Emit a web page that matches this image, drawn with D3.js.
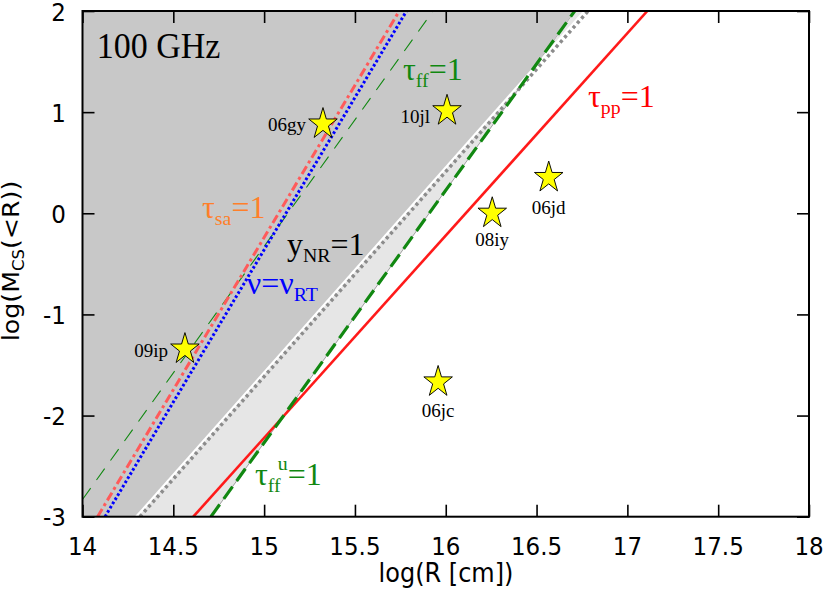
<!DOCTYPE html>
<html><head><meta charset="utf-8">
<script src="https://cdn.jsdelivr.net/npm/d3@7"></script>
<style>body{margin:0;background:#fff}</style>
</head><body>
<svg id="c" width="830" height="593"></svg>
<script>
// ---- data ----
const xTicks = [14, 14.5, 15, 15.5, 16, 16.5, 17, 17.5, 18];
const yTicks = [-3, -2, -1, 0, 1, 2];
const xTickLabels = ["14", "14.5", "15", "15.5", "16", "16.5", "17", "17.5", "18"];
const yTickLabels = ["-3", "-2", "-1", "0", "1", "2"];
// lines: endpoints [logR, logM]
const tauPP  = [[14.61, -3], [17.11, 2]];
const tauFFu = [[14.707, -3], [16.71, 2]];
const yNR    = [[14.316, -3], [16.784, 2]];
const tauFF  = [[14.0, -2.83], [15.93, 2]];
const tauSA  = [[14.083, -3], [15.744, 2]];
const nuRT   = [[14.124, -3], [15.784, 2]];
// supernovae
const snNames = ["06gy", "10jl", "09ip", "08iy", "06jd", "06jc"];
const snLogR  = [15.324, 16.007, 14.564, 16.256, 16.567, 15.958];
const snLogM  = [0.882, 1.013, -1.343, 0.0, 0.353, -1.668];

// ---- layout / style ----
const x = d3.scaleLinear().domain([14, 18]).range([82.5, 809]);
const y = d3.scaleLinear().domain([-3, 2]).range([516.7, 11]);
const svg = d3.select("#c");
const SERIF = "'Liberation Serif','DejaVu Serif',serif";
const SANS = "'DejaVu Sans',sans-serif";

svg.append("defs").append("clipPath").attr("id", "clip")
  .append("rect").attr("x", x(14)).attr("y", y(2))
  .attr("width", x(18) - x(14)).attr("height", y(-3) - y(2));
const plot = svg.append("g").attr("clip-path", "url(#clip)");

function xAt(line, yy) {
  const [[x0, y0], [x1, y1]] = line;
  return x0 + (yy - y0) * (x1 - x0) / (y1 - y0);
}
const whiteOffset = -3.5; // px, boundary line left of y_NR dots

// dark grey region: left of min(y_NR boundary, tau_ff^u)
const ys = d3.range(-3, 2.0001, 0.01);
const darkPts = [[x(14), y(2)], [x(14), y(-3)]];
ys.forEach(v => {
  const px = Math.min(x(xAt(yNR, v)) + whiteOffset, x(xAt(tauFFu, v)));
  darkPts.push([px, y(v)]);
});
// light grey region between y_NR and tau_ff^u
const lightPts = [
  [x(yNR[0][0]) + whiteOffset, y(yNR[0][1])], [x(yNR[1][0]) + whiteOffset, y(yNR[1][1])],
  [x(tauFFu[1][0]), y(tauFFu[1][1])], [x(tauFFu[0][0]), y(tauFFu[0][1])]
];
plot.append("path").attr("d", d3.line()(lightPts) + "Z")
  .attr("fill", "#e6e6e6").attr("stroke", "#8a8a8a").attr("stroke-width", 0.8);
plot.append("path").attr("d", d3.line()(darkPts) + "Z").attr("fill", "#c8c8c8");

const lineGen = d3.line().x(d => x(d[0])).y(d => y(d[1]));
function drawLine(data, stroke, width, dash, offset, cap) {
  plot.append("path").attr("d", lineGen(data))
    .attr("transform", offset ? `translate(${offset},0)` : null)
    .attr("fill", "none").attr("stroke", stroke).attr("stroke-width", width)
    .attr("stroke-dasharray", dash).attr("stroke-linecap", cap || "butt");
}
drawLine(yNR, "#ffffff", 2.5, null, whiteOffset);
drawLine(yNR, "#8c8c8c", 3.5, "3.2,3.2");
drawLine(tauFF, "#118811", 1.1, "14,10");
drawLine(tauSA, "#ff5a5a", 3, "9,3.5,3,3.5");
drawLine(nuRT, "#0000ff", 3, "2.6,2.3");
drawLine(tauPP, "#ff1a1a", 2.6, null);
drawLine(tauFFu, "#118811", 3.2, "15,7");

// stars
const R = 15;
const star = d3.symbol().type(d3.symbolStar).size(R * R / 0.8908130915292852);
const labelStyle = {
  "06gy": {pos: "left", dy: 7}, "10jl": {pos: "left", dy: 12}, "09ip": {pos: "left", dy: 8},
  "08iy": {pos: "below", dy: 33}, "06jd": {pos: "below", dy: 36}, "06jc": {pos: "below", dy: 35}
};
snNames.forEach((n, i) => {
  const cx = x(snLogR[i]), cy = y(snLogM[i]);
  svg.append("path").attr("d", star())
    .attr("transform", `translate(${cx},${cy}) scale(1,1.1)`)
    .attr("fill", "#ffff00").attr("stroke", "#000").attr("stroke-width", 0.9);
  const st = labelStyle[n];
  svg.append("text").text(n)
    .attr("x", st.pos === "left" ? cx - 17 : cx)
    .attr("y", cy + st.dy)
    .attr("text-anchor", st.pos === "left" ? "end" : "middle")
    .attr("font-family", SERIF).attr("font-size", 19).attr("fill", "#000");
});

// rich text helper
function rich(x0, y0, parts, o) {
  const g = svg.append("g").attr("transform", `translate(${x0},${y0}) scale(1,${o.sy || 1})`);
  const t = g.append("text").attr("font-family", o.family).attr("font-size", o.size)
    .attr("fill", o.color).attr("text-anchor", o.anchor || "start");
  let cur = 0;
  parts.forEach(p => {
    const [str, kind, dx] = p;
    let target = 0, fs = o.size;
    if (kind === "sub") { target = o.size * 0.22; fs = o.size * 0.62; }
    if (kind === "sup") { target = -o.size * 0.48; fs = o.size * 0.62; }
    t.append("tspan").text(str).attr("dy", target - cur).attr("dx", dx || 0).attr("font-size", fs);
    cur = target;
  });
  return g;
}
rich(96.7, 58.3, [["100 GHz"]], {family: SERIF, size: 34, color: "#000", sy: 1.08});
rich(403, 80, [["τ"], ["ff", "sub"], ["=1"]], {family: SERIF, size: 32, color: "#118811"});
rich(588, 107, [["τ"], ["pp", "sub"], ["=1"]], {family: SERIF, size: 32, color: "#ff0000"});
rich(202, 218.3, [["τ"], ["sa", "sub"], ["=1"]], {family: SERIF, size: 32, color: "#ff7f2a"});
rich(287, 255, [["y"], ["NR", "sub"], ["=1"]], {family: SERIF, size: 32, color: "#000"});
rich(246.7, 294, [["ν=ν"], ["RT", "sub"]], {family: SERIF, size: 32, color: "#0000ff"});
rich(255, 485, [["τ"], ["ff", "sub"], ["u", "sup", -3], ["=1"]], {family: SERIF, size: 32, color: "#118811"});

// axes
const axG = svg.append("g");
function styleAxis(g) {
  g.select(".domain").remove();
  g.selectAll(".tick line").attr("stroke", "#000").attr("stroke-width", 1.6);
  g.selectAll(".tick text").remove();
}
axG.append("g").attr("transform", `translate(0,${y(-3)})`)
  .call(d3.axisBottom(x).tickValues(xTicks).tickSizeInner(-12).tickSizeOuter(0)).call(styleAxis);
axG.append("g").attr("transform", `translate(0,${y(2)})`)
  .call(d3.axisTop(x).tickValues(xTicks).tickSizeInner(-12).tickSizeOuter(0)).call(styleAxis);
axG.append("g").attr("transform", `translate(${x(14)},0)`)
  .call(d3.axisLeft(y).tickValues(yTicks).tickSizeInner(-12).tickSizeOuter(0)).call(styleAxis);
axG.append("g").attr("transform", `translate(${x(18)},0)`)
  .call(d3.axisRight(y).tickValues(yTicks).tickSizeInner(-12).tickSizeOuter(0)).call(styleAxis);
svg.append("rect").attr("x", x(14)).attr("y", y(2))
  .attr("width", x(18) - x(14)).attr("height", y(-3) - y(2))
  .attr("fill", "none").attr("stroke", "#000").attr("stroke-width", 2);

xTicks.forEach((v, i) => {
  rich(x(v), y(-3) + 38.5, [[xTickLabels[i]]], {family: SANS, size: 23, color: "#000", sy: 1.08, anchor: "middle"});
});
yTicks.forEach((v, i) => {
  rich(66, y(v) + 9.5, [[yTickLabels[i]]], {family: SANS, size: 23, color: "#000", sy: 1.05, anchor: "end"});
});
rich(446, 582, [["log(R [cm])"]], {family: SANS, size: 24, color: "#000", sy: 1.1, anchor: "middle"});
// y label
const yl = svg.append("g").attr("transform", "translate(19,261) rotate(-90) scale(1.1,1)");
const ylt = yl.append("text").attr("font-family", SANS).attr("font-size", 23).attr("text-anchor", "middle").attr("fill", "#000");
ylt.append("tspan").text("log(M");
ylt.append("tspan").text("CS").attr("font-size", 15).attr("dy", 5);
ylt.append("tspan").text("(<R))").attr("dy", -5);
</script>
</body></html>
